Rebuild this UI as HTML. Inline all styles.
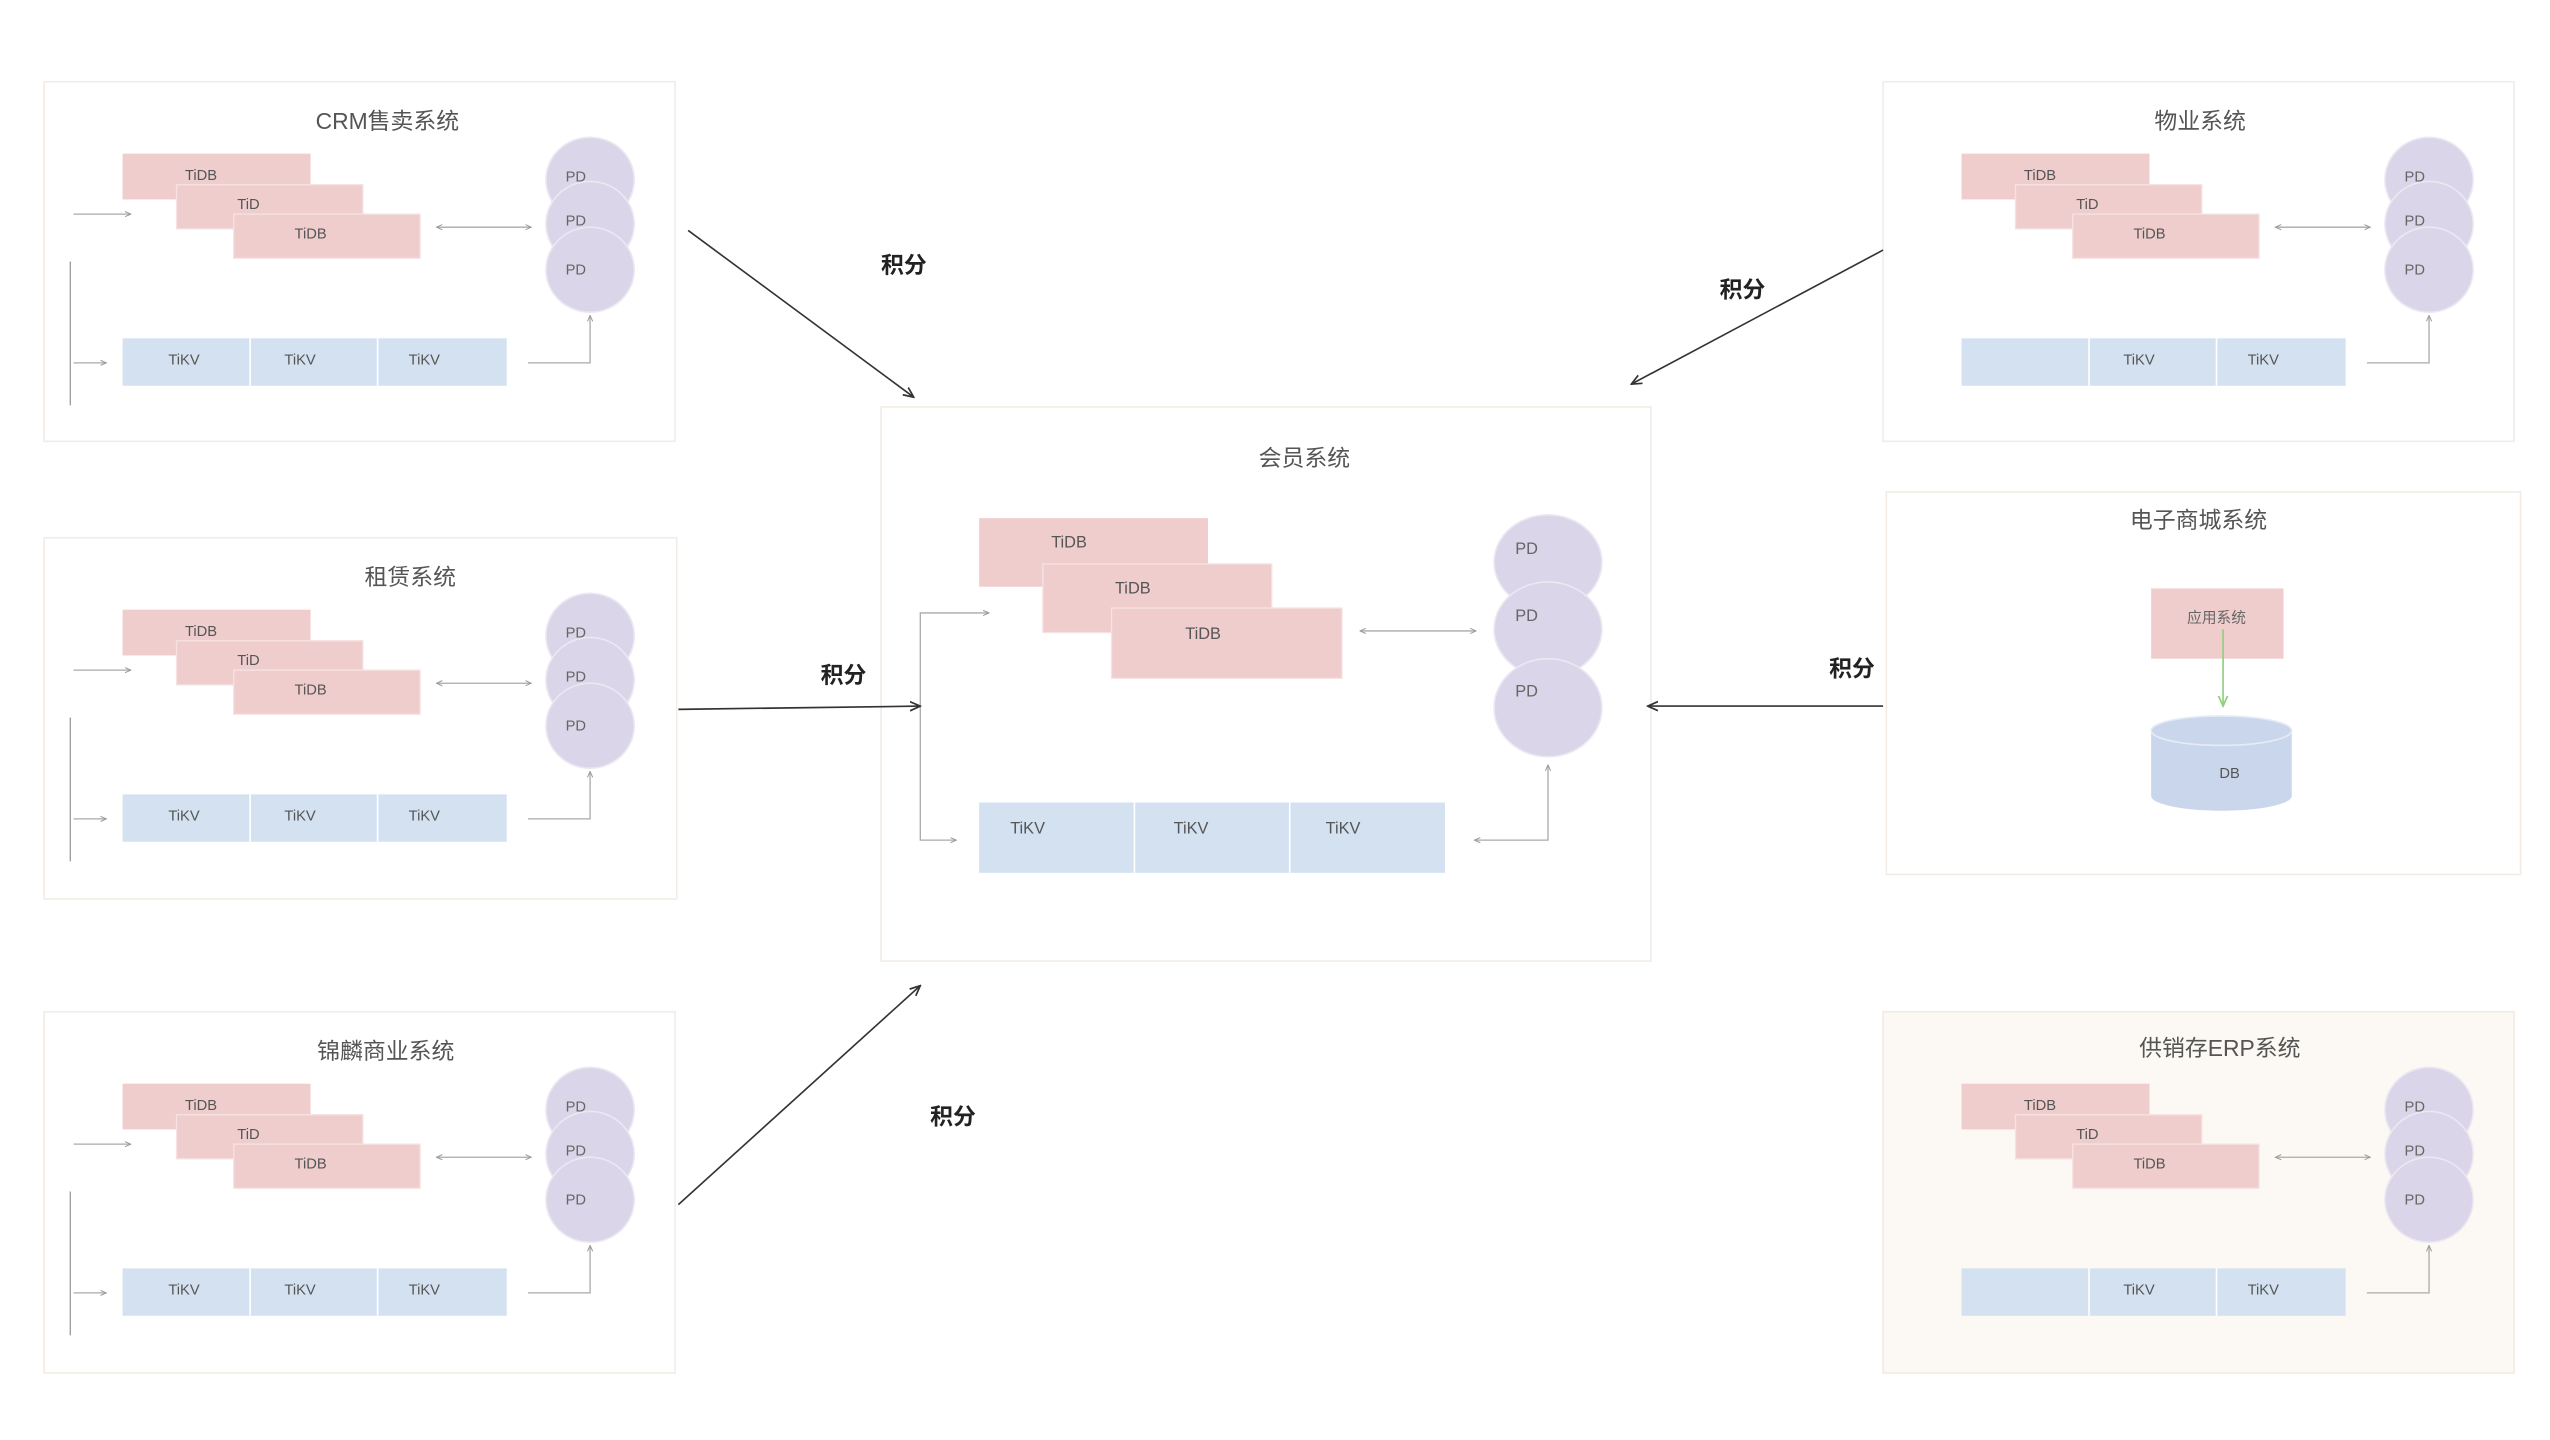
<!DOCTYPE html>
<html><head><meta charset="utf-8">
<style>
html,body{margin:0;padding:0;background:#fff;}
svg{display:block;}
text{font-family:"Liberation Sans","Noto Sans CJK SC",sans-serif;}
</style></head>
<body>
<svg width="2550" height="1440" viewBox="0 0 1560 881" preserveAspectRatio="none" xmlns="http://www.w3.org/2000/svg">
<defs>
<marker id="a" viewBox="0 0 10 10" refX="9" refY="5" markerWidth="5" markerHeight="5" orient="auto-start-reverse"><path d="M0,1 L9,5 L0,9" fill="none" stroke="#999" stroke-width="1.5"/></marker>
<marker id="b" viewBox="0 0 10 10" refX="9" refY="5" markerWidth="7" markerHeight="7" orient="auto"><path d="M0,1 L9,5 L0,9" fill="none" stroke="#333" stroke-width="1.5"/></marker>
<marker id="g" viewBox="0 0 10 10" refX="9" refY="5" markerWidth="7" markerHeight="7" orient="auto"><path d="M0,1 L9,5 L0,9" fill="none" stroke="#8fd07a" stroke-width="1.5"/></marker>
<g id="inner">
<rect x="48" y="44" width="115" height="28" fill="#efcdcd"/>
<text x="96" y="60" font-size="9" fill="#555" text-anchor="middle">TiDB</text>
<rect x="81" y="63" width="114" height="27" fill="#efcdcd" stroke="#f6e2e2" stroke-width="0.8"/>
<text x="125" y="78" font-size="9" fill="#555" text-anchor="middle">TiD</text>
<rect x="116" y="81" width="114" height="27" fill="#efcdcd" stroke="#f6e2e2" stroke-width="0.8"/>
<text x="163" y="96" font-size="9" fill="#555" text-anchor="middle">TiDB</text>
<ellipse cx="334" cy="60" rx="27" ry="26" fill="#dad5e8" stroke="#ebe8f2"/>
<ellipse cx="334" cy="87" rx="27" ry="26" fill="#dad5e8" stroke="#ebe8f2"/>
<ellipse cx="334" cy="115" rx="27" ry="26" fill="#dad5e8" stroke="#ebe8f2"/>
<text x="319" y="61" font-size="9" fill="#666">PD</text>
<text x="319" y="88" font-size="9" fill="#666">PD</text>
<text x="319" y="118" font-size="9" fill="#666">PD</text>
<rect x="48" y="157" width="235" height="29" fill="#d3e1f1"/>
<line x1="126" y1="157" x2="126" y2="186" stroke="#fff"/>
<line x1="204" y1="157" x2="204" y2="186" stroke="#fff"/>
<line x1="240" y1="89" x2="298" y2="89" stroke="#aaa" stroke-width="0.8" marker-start="url(#a)" marker-end="url(#a)"/>
<polyline points="334,143 334,172 296,172" fill="none" stroke="#aaa" stroke-width="0.8" marker-start="url(#a)"/>
</g>
<g id="leftlines">
<line x1="18" y1="81" x2="53" y2="81" stroke="#aaa" stroke-width="0.8" marker-end="url(#a)"/>
<line x1="16" y1="110" x2="16" y2="198" stroke="#999" stroke-width="0.8"/>
<line x1="18" y1="172" x2="38" y2="172" stroke="#aaa" stroke-width="0.8" marker-end="url(#a)"/>
</g>
<g id="kv3">
<text x="76" y="173" font-size="9" fill="#555">TiKV</text>
</g>
<g id="kv12">
<text x="147" y="173" font-size="9" fill="#555">TiKV</text>
<text x="223" y="173" font-size="9" fill="#555">TiKV</text>
</g>
</defs>

<!-- CRM -->
<g transform="translate(27,50)">
<rect x="0" y="0" width="386" height="220" fill="#fff" stroke="#f3ece6"/>
<text x="210" y="29" font-size="14" fill="#555" text-anchor="middle">CRM售卖系统</text>
<use href="#inner"/><use href="#leftlines"/><use href="#kv3"/><use href="#kv12"/>
</g>
<!-- 租赁 -->
<g transform="translate(27,329)">
<rect x="0" y="0" width="387" height="221" fill="#fff" stroke="#f3ece6"/>
<text x="224" y="29" font-size="14" fill="#555" text-anchor="middle">租赁系统</text>
<use href="#inner"/><use href="#leftlines"/><use href="#kv3"/><use href="#kv12"/>
</g>
<!-- 锦麟 -->
<g transform="translate(27,619)">
<rect x="0" y="0" width="386" height="221" fill="#fff" stroke="#f3ece6"/>
<text x="209" y="29" font-size="14" fill="#555" text-anchor="middle">锦麟商业系统</text>
<use href="#inner"/><use href="#leftlines"/><use href="#kv3"/><use href="#kv12"/>
</g>
<!-- 物业 -->
<g transform="translate(1152,50)">
<rect x="0" y="0" width="386" height="220" fill="#fff" stroke="#f3ece6"/>
<text x="194" y="29" font-size="14" fill="#555" text-anchor="middle">物业系统</text>
<use href="#inner"/><use href="#kv12"/>
</g>
<!-- ERP -->
<g transform="translate(1152,619)">
<rect x="0" y="0" width="386" height="221" fill="#fcf9f4" stroke="#f1ebe3"/>
<text x="206" y="27" font-size="14" fill="#555" text-anchor="middle">供销存ERP系统</text>
<use href="#inner"/><use href="#kv12"/>
</g>
<!-- 电子商城 -->
<rect x="1154" y="301" width="388" height="234" fill="#fff" stroke="#f3ece6"/>
<text x="1345" y="323" font-size="14" fill="#555" text-anchor="middle">电子商城系统</text>
<rect x="1316" y="360" width="81" height="43" fill="#efcdcd"/>
<text x="1356" y="381" font-size="9" fill="#666" text-anchor="middle">应用系统</text>
<line x1="1360" y1="385" x2="1360" y2="432" stroke="#8fd07a" stroke-width="1" marker-end="url(#g)"/>
<path d="M1316,447 L1316,487 A43,9 0 0 0 1402,487 L1402,447 Z" fill="#cad6eb"/>
<ellipse cx="1359" cy="447" rx="43" ry="9" fill="#cad6eb" stroke="#e6ecf6"/>
<text x="1364" y="476" font-size="9" fill="#555" text-anchor="middle">DB</text>

<!-- 会员 center -->
<rect x="539" y="249" width="471" height="339" fill="#fff" stroke="#f3ece6"/>
<text x="798" y="285" font-size="14" fill="#555" text-anchor="middle">会员系统</text>
<rect x="599" y="317" width="140" height="42" fill="#efcdcd"/>
<text x="654" y="335" font-size="10" fill="#555" text-anchor="middle">TiDB</text>
<rect x="638" y="345" width="140" height="42" fill="#efcdcd" stroke="#f6e2e2" stroke-width="0.8"/>
<text x="693" y="363" font-size="10" fill="#555" text-anchor="middle">TiDB</text>
<rect x="680" y="372" width="141" height="43" fill="#efcdcd" stroke="#f6e2e2" stroke-width="0.8"/>
<text x="736" y="391" font-size="10" fill="#555" text-anchor="middle">TiDB</text>
<ellipse cx="947" cy="344" rx="33" ry="29" fill="#dad5e8" stroke="#ebe8f2"/>
<ellipse cx="947" cy="385" rx="33" ry="29" fill="#dad5e8" stroke="#ebe8f2"/>
<ellipse cx="947" cy="433" rx="33" ry="30" fill="#dad5e8" stroke="#ebe8f2"/>
<text x="927" y="339" font-size="10" fill="#666">PD</text>
<text x="927" y="380" font-size="10" fill="#666">PD</text>
<text x="927" y="426" font-size="10" fill="#666">PD</text>
<rect x="599" y="491" width="285" height="43" fill="#d3e1f1"/>
<line x1="694" y1="491" x2="694" y2="534" stroke="#fff"/>
<line x1="789" y1="491" x2="789" y2="534" stroke="#fff"/>
<text x="618" y="510" font-size="10" fill="#555">TiKV</text>
<text x="718" y="510" font-size="10" fill="#555">TiKV</text>
<text x="811" y="510" font-size="10" fill="#555">TiKV</text>
<polyline points="605,375 563,375 563,514 585,514" fill="none" stroke="#aaa" stroke-width="0.8" marker-start="url(#a)" marker-end="url(#a)"/>
<line x1="832" y1="386" x2="903" y2="386" stroke="#aaa" stroke-width="0.8" marker-start="url(#a)" marker-end="url(#a)"/>
<polyline points="947,468 947,514 902,514" fill="none" stroke="#aaa" stroke-width="0.8" marker-start="url(#a)" marker-end="url(#a)"/>

<!-- connectors -->
<line x1="421" y1="141" x2="559" y2="243" stroke="#333" stroke-width="1" marker-end="url(#b)"/>
<text x="553" y="167" font-size="14" fill="#222" font-weight="bold" text-anchor="middle">积分</text>
<line x1="1152" y1="153" x2="998" y2="235" stroke="#333" stroke-width="1" marker-end="url(#b)"/>
<text x="1066" y="182" font-size="14" fill="#222" font-weight="bold" text-anchor="middle">积分</text>
<line x1="415" y1="434" x2="563" y2="432" stroke="#333" stroke-width="1" marker-end="url(#b)"/>
<text x="516" y="418" font-size="14" fill="#222" font-weight="bold" text-anchor="middle">积分</text>
<line x1="1152" y1="432" x2="1008" y2="432" stroke="#333" stroke-width="1" marker-end="url(#b)"/>
<text x="1133" y="414" font-size="14" fill="#222" font-weight="bold" text-anchor="middle">积分</text>
<line x1="415" y1="737" x2="563" y2="603" stroke="#333" stroke-width="1" marker-end="url(#b)"/>
<text x="583" y="688" font-size="14" fill="#222" font-weight="bold" text-anchor="middle">积分</text>
</svg>
</body></html>
